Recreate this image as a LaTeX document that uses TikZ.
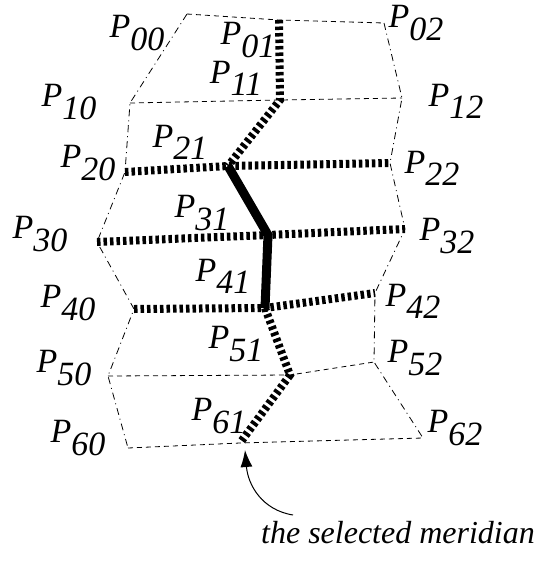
\documentclass[tikz,border=0pt]{standalone}
\usepackage{fontspec}
\setmainfont{Liberation Serif}
\usetikzlibrary{arrows.meta}
\newcommand{\Pij}[1]{P\raisebox{-0.36em}{#1}}

\begin{document}
\begin{tikzpicture}[x=1pt,y=-1pt,every node/.style={font=\fontsize{34}{34}\selectfont\itshape,inner sep=0pt},fine/.style={dash pattern=on 5pt off 4pt,line width=0.8pt},side/.style={dash pattern=on 7pt off 4pt on 1pt off 4pt,line width=0.8pt},wide/.style={dash pattern=on 3.5pt off 3pt,line width=8pt},merid/.style={line width=9pt},arrow/.style={-{Latex[length=17pt,width=12pt]},line width=1pt}]
\useasboundingbox (0,0) rectangle (535,563);
% grid points
\coordinate (p00) at (187,14);\coordinate (p01) at (279,20);\coordinate (p02) at (384,23);
\coordinate (p10) at (130,103);\coordinate (p11) at (280,100);\coordinate (p12) at (402,98);
\coordinate (p20) at (125,172);\coordinate (p21) at (228,166);\coordinate (p22) at (390,163);
\coordinate (p30) at (97,242);\coordinate (p31) at (268,235);\coordinate (p32) at (405,229);
\coordinate (p40) at (134,309);\coordinate (p41) at (265,308);\coordinate (p42) at (375,293);
\coordinate (p50) at (108,376);\coordinate (p51) at (290,375);\coordinate (p52) at (374,362);
\coordinate (p60) at (128,448);\coordinate (p61) at (240,443);\coordinate (p62) at (423,438);
% rows
\draw[fine] (p00)--(p01)--(p02);
\draw[fine] (p10)--(p11)--(p12);
\draw[wide] (p20)--(p21)--(p22);
\draw[wide] (p30)--(p31)--(p32);
\draw[wide] (p40)--(p41)--(p42);
\draw[fine] (p50)--(p51)--(p52);
\draw[fine] (p60)--(p61)--(p62);
% sides
\draw[side] (p00)--(p10)--(p20)--(p30)--(p40)--(p50)--(p60);
\draw[side] (p02)--(p12)--(p22)--(p32)--(p42)--(p52)--(p62);
% meridian
\draw[wide] (p01)--(p11)--(p21);
\draw[merid] (p21)--(p31)--(p41);
\draw[wide] (p41)--(p51)--(p61);
% labels
\node (l00) at (137,33) {\Pij{00}};\node (l01) at (248,40) {\Pij{01}};\node (l02) at (416,23) {\Pij{02}};
\node (l10) at (69,102) {\Pij{10}};\node (l11) at (236,78) {\Pij{11}};\node (l12) at (456,101) {\Pij{12}};
\node (l20) at (88,163) {\Pij{20}};\node (l21) at (180,142) {\Pij{21}};\node (l22) at (432,168) {\Pij{22}};
\node (l30) at (40,234) {\Pij{30}};\node (l31) at (202,213) {\Pij{31}};\node (l32) at (447,236) {\Pij{32}};
\node (l40) at (68,303) {\Pij{40}};\node (l41) at (223,276) {\Pij{41}};\node (l42) at (413,301) {\Pij{42}};
\node (l50) at (64,368) {\Pij{50}};\node (l51) at (236,344) {\Pij{51}};\node (l52) at (415,358) {\Pij{52}};
\node (l60) at (78,438) {\Pij{60}};\node (l61) at (219,416) {\Pij{61}};\node (l62) at (455,428) {\Pij{62}};
% pointer
\node[font=\fontsize{32}{32}\selectfont\itshape] (sel) at (398,533) {the selected meridian};
\coordinate (tail) at (293,515);\coordinate (tip) at (245,450);
\draw[arrow] (tail) .. controls (262,510) and (248,485) .. (tip);
\end{tikzpicture}
\end{document}
